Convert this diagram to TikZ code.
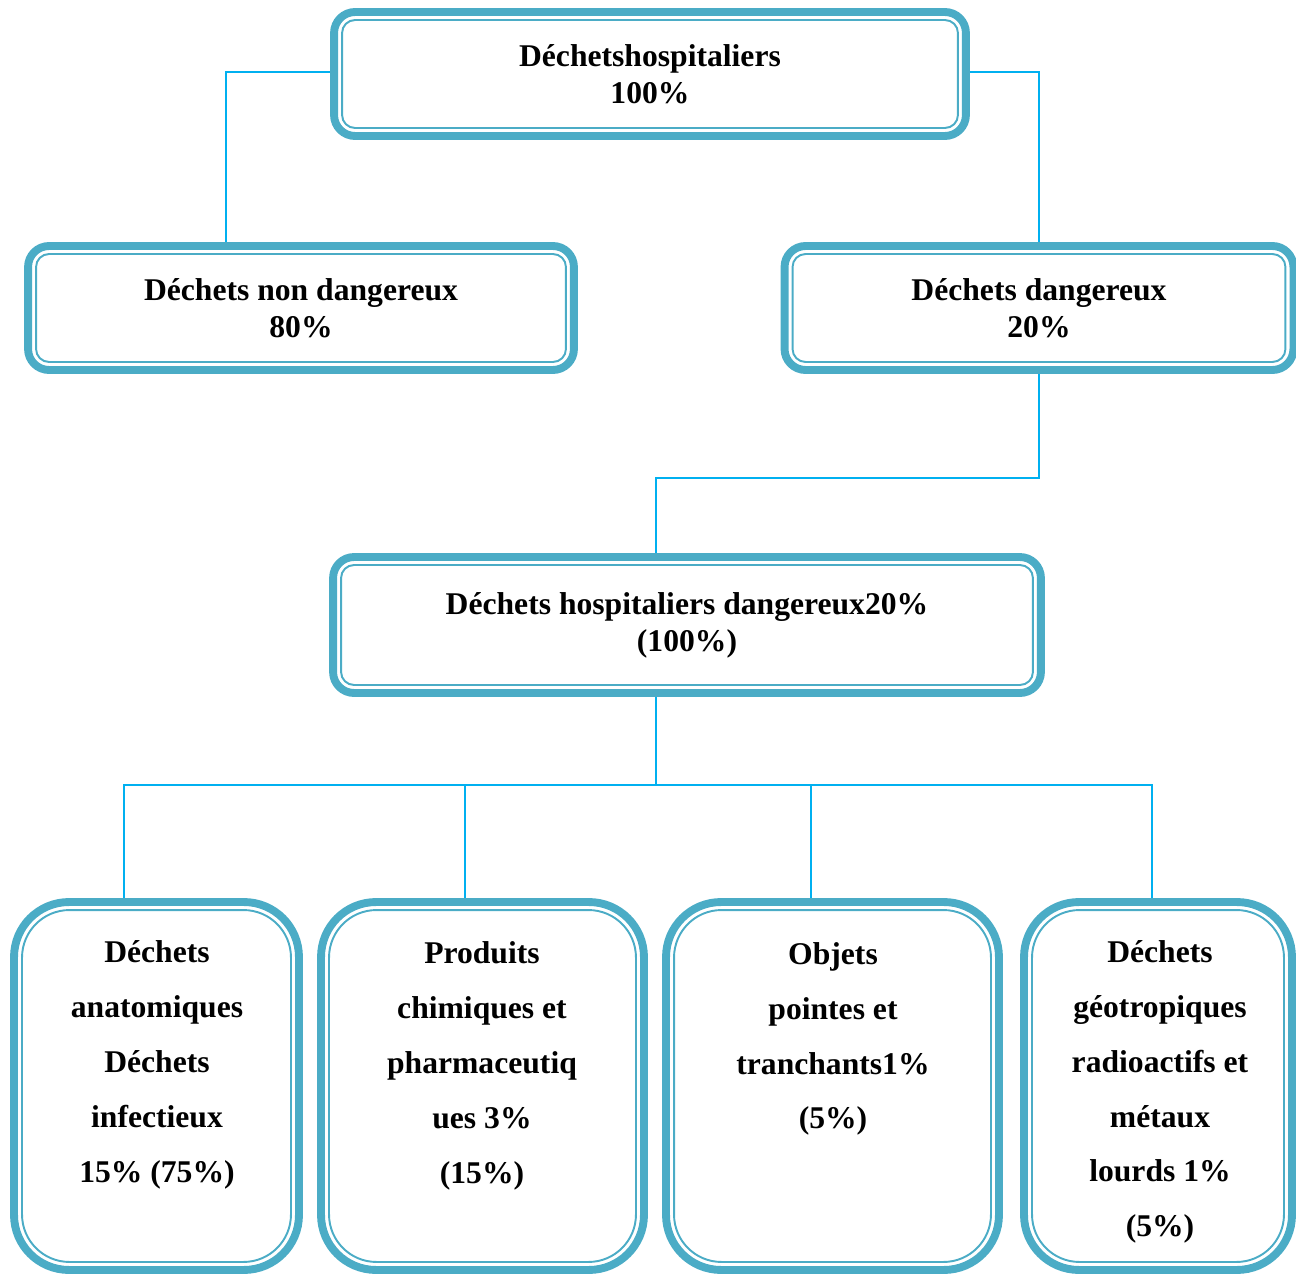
\documentclass[tikz,border=0pt]{standalone}
\usepackage{fontspec}
\setmainfont{Liberation Serif}
\usepackage{tikz}
\usetikzlibrary{positioning,calc,backgrounds}
\definecolor{hwaqua}{RGB}{75,172,198}
\definecolor{hwcyan}{RGB}{0,176,240}
\tikzstyle{link} = [line width=0.9pt, color=hwcyan]
\tikzstyle{innerline} = [draw=hwaqua, line width=1.1pt]
\tikzstyle{boxtext} = [align=center, inner sep=0pt, font=\bfseries\fontsize{18}{31.2}\selectfont]
\tikzstyle{wastebox} = [rectangle, rounded corners=0.42cm, draw=hwaqua, line width=4.5pt, outer sep=0pt, align=center, minimum height=2.48cm, font=\bfseries\fontsize{18}{21}\selectfont]
\tikzstyle{tallbox} = [wastebox, rounded corners=1.1cm, minimum height=7.36cm]

\begin{document}
\begin{tikzpicture}[x=0.02cm, y=-0.02cm]
\useasboundingbox (0,0) rectangle (1296,1274);

% Root
\node[wastebox, minimum width=12.64cm] (hosp) at (650,74) {Déchetshospitaliers\\100\%};

% Level 1
\node[wastebox, minimum width=10.92cm] (nondang) at (301,308) {Déchets non dangereux\\80\%};
\node[wastebox, minimum width=10.18cm] (dang) at (1039,308) {Déchets dangereux\\20\%};

% Level 2
\node[wastebox, minimum width=14.16cm, minimum height=2.72cm] (hospdang) at (687,625) {Déchets hospitaliers dangereux20\%\\(100\%)};

% Categories
\node[tallbox, minimum width=5.7cm] (anat) at (156.5,1086) {};
\node[tallbox, minimum width=6.46cm] (chim) at (482.5,1086) {};
\node[tallbox, minimum width=6.66cm] (pique) at (832.5,1086) {};
\node[tallbox, minimum width=5.36cm] (radio) at (1158,1086) {};

\node[boxtext] (anattext) at (157,1065) {Déchets\\anatomiques\\Déchets\\infectieux\\15\% (75\%)};
\node[boxtext] (chimtext) at (482,1066) {Produits\\chimiques et\\pharmaceutiq\\ues 3\%\\(15\%)};
\node[boxtext] (piquetext) at (833,1039) {Objets\\pointes et\\tranchants1\%\\(5\%)};
\node[boxtext] (radiotext) at (1160,1092) {Déchets\\géotropiques\\radioactifs et\\métaux\\lourds 1\%\\(5\%)};

% Inner borders
\foreach \b/\r in {hosp/0.26cm, nondang/0.26cm, dang/0.26cm, hospdang/0.26cm,
                   anat/0.95cm, chim/0.95cm, pique/0.95cm, radio/0.95cm}
  \draw[innerline, rounded corners=\r] ([shift={(0.16cm,0.16cm)}]\b.south west) rectangle ([shift={(-0.16cm,-0.16cm)}]\b.north east);

% Connections
\coordinate (split) at (656,478);
\coordinate (bus) at (656,785);
\begin{scope}[on background layer]
\draw[link] ([yshift=0.04cm]hosp.west) -| ([xshift=-1.5cm]nondang.north);
\draw[link] ([yshift=0.04cm]hosp.east) -| (dang.north);
\draw[link] (dang.south) |- (split) -- (split |- hospdang.north);
\draw[link] (bus |- hospdang.south) -- (bus);
\draw[link] ([xshift=-0.65cm]anat.north) |- (bus);
\draw[link] ([xshift=-0.35cm]chim.north) |- (bus);
\draw[link] ([xshift=-0.43cm]pique.north) |- (bus);
\draw[link] ([xshift=-0.12cm]radio.north) |- (bus);
\end{scope}
\end{tikzpicture}
\end{document}
